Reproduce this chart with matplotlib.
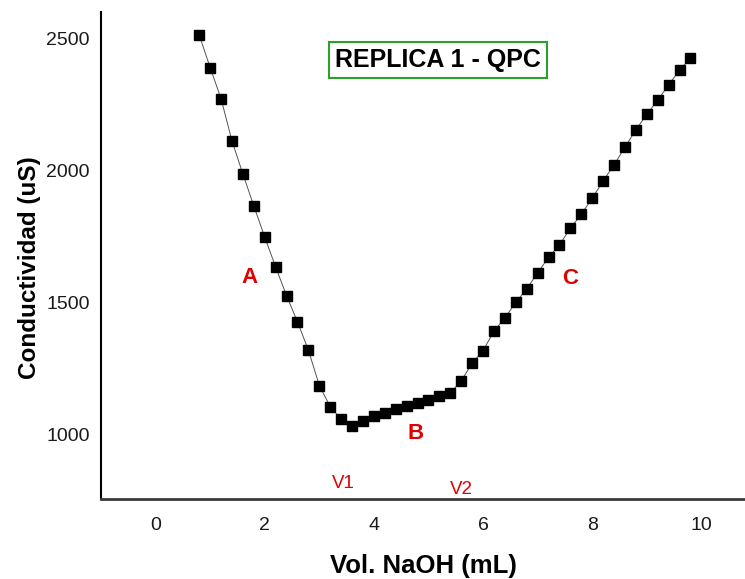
import matplotlib

matplotlib.use("Agg")
import matplotlib.pyplot as plt

# volume of NaOH added (mL) and measured conductivity (uS)
vol_naoh = [0.8, 1.0, 1.2, 1.4, 1.6, 1.8, 2.0, 2.2, 2.4, 2.6, 2.8, 3.0, 3.2, 3.4,
            3.6, 3.8, 4.0, 4.2, 4.4, 4.6, 4.8, 5.0, 5.2, 5.4, 5.6, 5.8, 6.0, 6.2,
            6.4, 6.6, 6.8, 7.0, 7.2, 7.4, 7.6, 7.8, 8.0, 8.2, 8.4, 8.6, 8.8, 9.0,
            9.2, 9.4, 9.6, 9.8]
conductividad = [2511, 2388, 2270, 2110, 1985, 1864, 1746, 1633, 1524, 1425,
                 1318, 1184, 1104, 1056, 1030, 1050, 1068, 1081, 1096, 1106,
                 1119, 1131, 1144, 1156, 1202, 1268, 1316, 1390, 1440, 1499,
                 1550, 1611, 1669, 1717, 1779, 1833, 1893, 1959, 2019, 2087,
                 2152, 2211, 2265, 2322, 2379, 2423]

xticks = [0, 2, 4, 6, 8, 10]
yticks = [1000, 1500, 2000, 2500]

# region labels and equivalence-point labels
region_labels = ["A", "B", "C"]
region_x = [1.72, 4.76, 7.6]
region_y = [1595, 1004, 1591]
equiv_labels = ["V1", "V2"]
equiv_x = [3.44, 5.6]
equiv_y = [814, 792]

plt.rcParams["font.family"] = ["Liberation Sans", "DejaVu Sans"]

fig = plt.figure(figsize=(7.45, 5.79), dpi=100)
ax = fig.add_axes([0.1356, 0.138, 0.8644, 0.841])

ax.plot(vol_naoh, conductividad, color="#555555", linewidth=0.7, zorder=1)
ax.plot(vol_naoh, conductividad, linestyle="none", marker="s", markersize=7.4,
        color="black", zorder=2)

for lab, x, y in zip(region_labels, region_x, region_y):
    ax.text(x, y, lab, color="#e00000", fontsize=16, fontweight="bold",
            ha="center", va="center")
for lab, x, y in zip(equiv_labels, equiv_x, equiv_y):
    ax.text(x, y, lab, color="#e00000", fontsize=13.5, ha="center", va="center")

ax.text(5.17, 2417, "REPLICA 1 - QPC", fontsize=18, fontweight="bold",
        ha="center", va="center",
        bbox=dict(boxstyle="square,pad=0.24", facecolor="white",
                  edgecolor="#2ca02c", linewidth=1.5))

ax.set_xlim(-1, 10.8)
ax.set_ylim(754, 2598)
ax.set_xticks(xticks)
ax.set_yticks(yticks)
ax.tick_params(axis="both", length=0, labelsize=14, colors="#1a1a1a")
ax.tick_params(axis="x", pad=13)
ax.tick_params(axis="y", pad=8)

ax.spines["top"].set_visible(False)
ax.spines["right"].set_visible(False)
ax.spines["left"].set_linewidth(1.5)
ax.spines["left"].set_color("black")
ax.spines["bottom"].set_linewidth(2)
ax.spines["bottom"].set_color("#3a3a3a")

ax.set_xlabel("Vol. NaOH (mL)", fontsize=18.5, fontweight="bold", labelpad=14)
ax.set_ylabel("Conductividad (uS)", fontsize=17.5, fontweight="bold")
ax.yaxis.set_label_coords(-0.093, 0.476)

fig.savefig("out.png", dpi=100)
plt.close(fig)
